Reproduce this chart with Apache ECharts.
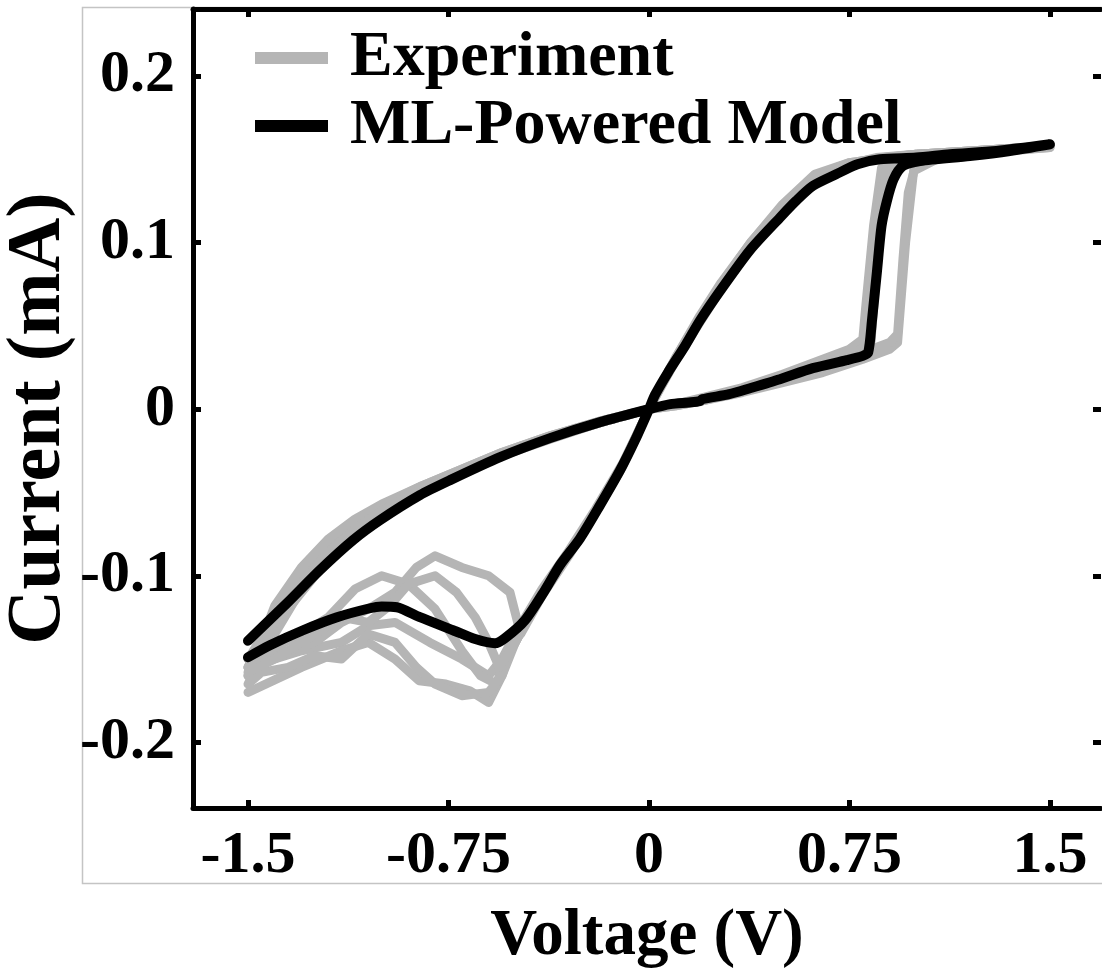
<!DOCTYPE html>
<html>
<head>
<meta charset="utf-8">
<script src="https://cdn.jsdelivr.net/npm/echarts@6/dist/echarts.min.js"></script>
<style>
html,body{margin:0;padding:0;background:#fff;}
#chart{width:1102px;height:973px;}
</style>
</head>
<body>
<div id="chart"></div>
<script>
// Tick labels
var xTicks = [-1.5, -0.75, 0, 0.75, 1.5];
var xTickLabels = ['-1.5', '-0.75', '0', '0.75', '1.5'];
var yTicks = [-0.2, -0.1, 0, 0.1, 0.2];
var yTickLabels = ['-0.2', '-0.1', '0', '0.1', '0.2'];
var seriesNames = ['Experiment', 'ML-Powered Model'];

// ML-Powered model loop [Voltage (V), Current (mA)], starting at -1.5 V on the upper branch
var model = [
  [-1.5,-0.139],[-1.354,-0.1164],[-1.231,-0.0966],[-1.107,-0.0786],[-1.006,-0.0666],[-0.857,-0.0516],
  [-0.744,-0.0426],[-0.557,-0.0288],[-0.37,-0.0174],[-0.183,-0.0078],[0,0],
  [0.08,0.003],[0.15,0.004],[0.19,0.0048],[0.2,0.006],[0.3,0.009],[0.378,0.0126],[0.49,0.018],
  [0.613,0.0246],[0.74,0.0294],[0.8,0.032],[0.82,0.034],
  [0.834,0.053],[0.853,0.083],[0.87,0.11],[0.89,0.125],[0.915,0.138],[0.95,0.146],[1.014,0.149],
  [1.2,0.152],[1.35,0.155],[1.5,0.159],
  [1.3,0.155],[1.126,0.153],[1.0,0.151],[0.864,0.150],[0.78,0.147],[0.7,0.141],[0.613,0.134],[0.55,0.125],[0.49,0.115],
  [0.378,0.0955],[0.266,0.071],[0.19,0.053],[0.135,0.038],[0.071,0.022],[0.022,0.0084],[0,0],
  [-0.052,-0.0186],[-0.108,-0.0366],[-0.183,-0.0576],[-0.258,-0.0776],[-0.333,-0.0936],
  [-0.389,-0.1086],[-0.464,-0.1267],[-0.539,-0.1375],[-0.576,-0.1405],
  [-0.65,-0.138],[-0.733,-0.1327],[-0.857,-0.1249],[-0.943,-0.1189],[-1.0,-0.1185],[-1.044,-0.1195],
  [-1.167,-0.1249],[-1.294,-0.1327],[-1.418,-0.1417],[-1.5,-0.1489]
];

// Experimental cycles [Voltage (V), Current (mA)]
var exp1 = [
  [-1.5,-0.15],[-1.4,-0.125],[-1.3,-0.1],[-1.2,-0.085],[-1.1,-0.07],[-1.0,-0.06],[-0.85,-0.048],
  [-0.7,-0.037],[-0.55,-0.027],[-0.37,-0.017],[-0.18,-0.008],[0,0],
  [0.1,0.003],[0.2,0.006],[0.35,0.011],[0.5,0.018],[0.65,0.026],[0.75,0.031],[0.8,0.035],[0.83,0.04],
  [0.86,0.1],[0.88,0.135],[0.9,0.148],[1.0,0.152],[1.2,0.154],[1.5,0.158],
  [1.2,0.155],[1.0,0.153],[0.88,0.151],[0.75,0.147],[0.62,0.139],[0.5,0.12],[0.38,0.098],[0.27,0.074],
  [0.19,0.054],[0.1,0.03],[0.03,0.01],[0,0],
  [-0.1,-0.034],[-0.2,-0.062],[-0.3,-0.087],[-0.4,-0.11],[-0.5,-0.135],[-0.55,-0.15],
  [-0.6,-0.16],[-0.7,-0.15],[-0.82,-0.14],[-0.95,-0.128],[-1.05,-0.13],[-1.15,-0.14],[-1.3,-0.145],
  [-1.4,-0.15],[-1.5,-0.155]
];
var exp2 = [
  [-1.5,-0.16],[-1.4,-0.13],[-1.3,-0.11],[-1.2,-0.09],[-1.1,-0.075],[-1.0,-0.064],[-0.85,-0.05],
  [-0.7,-0.038],[-0.55,-0.028],[-0.37,-0.018],[-0.18,-0.008],[0,0],
  [0.1,0.002],[0.2,0.005],[0.35,0.01],[0.5,0.016],[0.65,0.022],[0.8,0.03],[0.9,0.036],[0.93,0.04],
  [0.96,0.1],[0.99,0.143],[1.1,0.152],[1.3,0.155],[1.5,0.157],
  [1.2,0.154],[1.0,0.152],[0.88,0.151],[0.75,0.148],[0.62,0.14],[0.5,0.122],[0.38,0.1],[0.27,0.076],
  [0.19,0.056],[0.1,0.031],[0.03,0.01],[0,0],
  [-0.1,-0.033],[-0.2,-0.06],[-0.3,-0.085],[-0.4,-0.108],[-0.5,-0.135],[-0.55,-0.16],[-0.6,-0.176],
  [-0.67,-0.169],[-0.76,-0.165],[-0.86,-0.163],[-0.95,-0.15],[-1.05,-0.14],[-1.15,-0.145],
  [-1.3,-0.155],[-1.5,-0.17]
];
var exp3 = [
  [-1.5,-0.155],[-1.4,-0.12],[-1.3,-0.098],[-1.2,-0.082],[-1.1,-0.068],[-1.0,-0.058],[-0.85,-0.046],
  [-0.7,-0.036],[-0.55,-0.026],[-0.37,-0.016],[-0.18,-0.007],[0,0],
  [0.1,0.003],[0.2,0.007],[0.35,0.013],[0.5,0.021],[0.65,0.03],[0.75,0.036],[0.8,0.042],[0.81,0.06],
  [0.84,0.11],[0.87,0.145],[0.95,0.151],[1.2,0.154],[1.5,0.158],
  [1.2,0.155],[1.0,0.153],[0.85,0.151],[0.72,0.146],[0.6,0.137],[0.5,0.121],[0.38,0.097],[0.27,0.073],
  [0.19,0.053],[0.1,0.03],[0.03,0.009],[0,0],
  [-0.1,-0.035],[-0.2,-0.062],[-0.3,-0.088],[-0.4,-0.112],[-0.48,-0.135],[-0.52,-0.11],[-0.6,-0.1],
  [-0.7,-0.095],[-0.8,-0.088],[-0.87,-0.095],[-0.95,-0.11],[-1.05,-0.12],[-1.15,-0.128],
  [-1.25,-0.14],[-1.35,-0.145],[-1.5,-0.15]
];
var exp4 = [
  [-1.5,-0.16],[-1.4,-0.118],[-1.3,-0.095],[-1.2,-0.078],[-1.1,-0.066],[-1.0,-0.057],[-0.85,-0.046],
  [-0.7,-0.036],[-0.55,-0.026],[-0.37,-0.016],[-0.18,-0.007],[0,0],
  [0.1,0.003],[0.2,0.006],[0.35,0.012],[0.5,0.02],[0.65,0.028],[0.75,0.033],[0.8,0.036],[0.83,0.041],
  [0.85,0.09],[0.87,0.135],[0.92,0.15],[1.2,0.154],[1.5,0.158],
  [1.2,0.155],[1.0,0.153],[0.85,0.15],[0.72,0.145],[0.6,0.136],[0.5,0.12],[0.38,0.097],[0.27,0.072],
  [0.19,0.052],[0.1,0.029],[0.03,0.009],[0,0],
  [-0.1,-0.034],[-0.2,-0.061],[-0.3,-0.086],[-0.4,-0.11],[-0.45,-0.125],[-0.5,-0.14],[-0.55,-0.155],
  [-0.57,-0.165],[-0.63,-0.16],[-0.7,-0.145],[-0.8,-0.12],[-0.9,-0.105],[-1.0,-0.1],[-1.1,-0.108],
  [-1.2,-0.125],[-1.3,-0.135],[-1.4,-0.143],[-1.5,-0.16]
];
var exp5 = [
  [-1.5,-0.165],[-1.4,-0.135],[-1.3,-0.108],[-1.2,-0.088],[-1.1,-0.073],[-1.0,-0.062],[-0.85,-0.049],
  [-0.7,-0.038],[-0.55,-0.028],[-0.37,-0.017],[-0.18,-0.008],[0,0],
  [0.1,0.002],[0.2,0.005],[0.35,0.011],[0.5,0.017],[0.65,0.024],[0.75,0.03],[0.85,0.037],[0.9,0.04],
  [0.93,0.045],[0.95,0.09],[0.97,0.13],[1.0,0.148],[1.2,0.153],[1.5,0.157],
  [1.2,0.154],[1.0,0.152],[0.88,0.151],[0.75,0.148],[0.62,0.141],[0.5,0.123],[0.38,0.1],[0.27,0.075],
  [0.19,0.055],[0.1,0.031],[0.03,0.01],[0,0],
  [-0.1,-0.034],[-0.2,-0.061],[-0.3,-0.086],[-0.4,-0.11],[-0.5,-0.14],[-0.55,-0.16],[-0.6,-0.17],
  [-0.7,-0.172],[-0.8,-0.165],[-0.87,-0.155],[-0.95,-0.14],[-1.05,-0.135],[-1.15,-0.15],
  [-1.25,-0.148],[-1.35,-0.155],[-1.45,-0.158],[-1.5,-0.165]
];
var exp6 = [
  [-1.5,-0.155],[-1.4,-0.128],[-1.3,-0.104],[-1.2,-0.086],[-1.1,-0.072],[-1.0,-0.061],[-0.85,-0.048],
  [-0.7,-0.037],[-0.55,-0.027],[-0.37,-0.017],[-0.18,-0.008],[0,0],
  [0.1,0.003],[0.2,0.006],[0.35,0.012],[0.5,0.019],[0.65,0.027],[0.75,0.033],[0.82,0.038],
  [0.84,0.07],[0.86,0.12],[0.89,0.145],[0.95,0.151],[1.2,0.154],[1.5,0.158],
  [1.2,0.155],[1.0,0.153],[0.87,0.151],[0.74,0.147],[0.61,0.138],[0.5,0.12],[0.38,0.098],[0.27,0.074],
  [0.19,0.054],[0.1,0.03],[0.03,0.01],[0,0],
  [-0.1,-0.034],[-0.2,-0.062],[-0.3,-0.087],[-0.4,-0.11],[-0.5,-0.14],[-0.56,-0.155],[-0.6,-0.14],
  [-0.65,-0.125],[-0.72,-0.11],[-0.8,-0.1],[-0.9,-0.105],[-0.97,-0.118],[-1.05,-0.128],
  [-1.15,-0.125],[-1.25,-0.135],[-1.4,-0.15],[-1.5,-0.158]
];
var expCycles = [exp1, exp2, exp3, exp4, exp5, exp6];

var FONT = '"Liberation Serif", "DejaVu Serif", serif';
var chart = echarts.init(document.getElementById('chart'), null, {renderer: 'canvas'});

var xMin = -1.7057, xMax = 1.6909, yMin = -0.2394, yMax = 0.2402;

function lookup(vals, labels) {
  return function (v) {
    for (var i = 0; i < vals.length; i++) if (Math.abs(vals[i] - v) < 1e-6) return labels[i];
    return '';
  };
}

var series = [];
expCycles.forEach(function (c) {
  series.push({
    name: seriesNames[0], type: 'line', data: c, showSymbol: false, symbol: 'none',
    lineStyle: {color: '#b5b5b5', width: 9, cap: 'round', join: 'round'},
    itemStyle: {color: '#b5b5b5'}, z: 2, silent: true, animation: false
  });
});
series.push({
  name: seriesNames[1], type: 'line', data: model, showSymbol: false, symbol: 'none',
  smooth: 0.25,
  lineStyle: {color: '#000', width: 10, cap: 'round', join: 'round'},
  itemStyle: {color: '#000'}, z: 3, silent: true, animation: false
});

function tick(vals) {
  return {show: true, inside: true, length: 8, customValues: vals, lineStyle: {color: '#000', width: 5}};
}
var lineOn = {show: true, onZero: false, lineStyle: {color: '#000', width: 5}};
var lineOff = {show: false, onZero: false};

chart.setOption({
  backgroundColor: '#fff',
  animation: false,
  graphic: [{
    type: 'rect', left: 80, top: 5, z: -1,
    shape: {width: 1021, height: 876},
    style: {fill: 'none', stroke: '#c4c4c4', lineWidth: 1.5}
  }],
  grid: {left: 193, top: 9, right: 1, bottom: 165, containLabel: false, outerBoundsMode: 'none'},
  legend: {
    data: seriesNames, orient: 'vertical', left: 250, top: 21, itemGap: 4,
    itemWidth: 73, itemHeight: 12, icon: 'rect',
    textStyle: {fontFamily: FONT, fontWeight: 'bold', fontSize: 64, color: '#000', padding: [0, 0, 0, 17]}
  },
  xAxis: [
    {
      type: 'value', position: 'bottom', min: xMin, max: xMax, splitLine: {show: false},
      axisLine: lineOn, axisTick: tick(xTicks),
      axisLabel: {show: true, customValues: xTicks, margin: 18, formatter: lookup(xTicks, xTickLabels),
        fontFamily: FONT, fontWeight: 'bold', fontSize: 60, color: '#000'},
      name: 'Voltage (V)', nameLocation: 'middle', nameGap: 97, nameMoveOverlap: false,
      nameTextStyle: {fontFamily: FONT, fontWeight: 'bold', fontSize: 65, color: '#000'}
    },
    {
      type: 'value', position: 'top', min: xMin, max: xMax, splitLine: {show: false},
      axisLine: lineOn, axisTick: tick(xTicks), axisLabel: {show: false}
    }
  ],
  yAxis: [
    {
      type: 'value', position: 'left', min: yMin, max: yMax, splitLine: {show: false},
      axisLine: lineOn, axisTick: tick(yTicks),
      axisLabel: {show: true, customValues: yTicks, margin: 18, formatter: lookup(yTicks, yTickLabels),
        fontFamily: FONT, fontWeight: 'bold', fontSize: 60, color: '#000'},
      name: 'Current (mA)', nameLocation: 'middle', nameGap: 116, nameMoveOverlap: false,
      nameTextStyle: {fontFamily: FONT, fontWeight: 'bold', fontSize: 76, color: '#000', padding: [0, 20, 0, 0]}
    },
    {
      type: 'value', position: 'right', min: yMin, max: yMax, splitLine: {show: false},
      axisLine: lineOff, axisTick: tick(yTicks), axisLabel: {show: false}
    }
  ],
  series: series
});
</script>
</body>
</html>
